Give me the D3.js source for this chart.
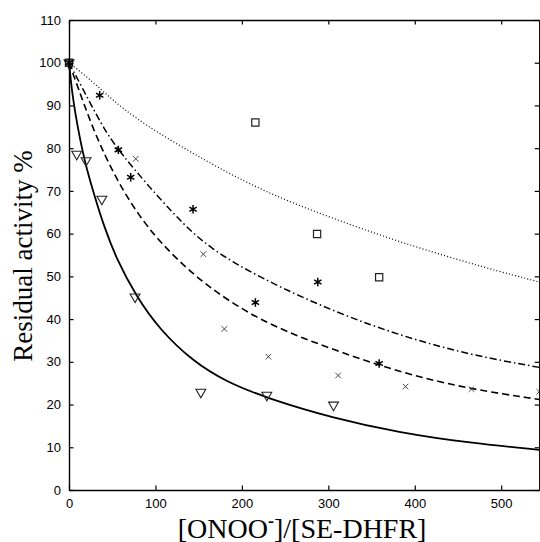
<!DOCTYPE html>
<html>
<head>
<meta charset="utf-8">
<script src="https://cdn.jsdelivr.net/npm/d3@7"></script>
<style>
  body { margin:0; background:#fff; }
  svg { display:block; }
</style>
</head>
<body>
<svg></svg>
<script>

var triX = [0, 8.9, 19.7, 38, 76.4, 152.5, 228.8, 306];
var triY = [100, 78.6, 77.1, 68.1, 45.2, 22.9, 22.2, 19.9];

var astX = [0, 35.5, 57.1, 71.4, 143.5, 215.6, 287.8, 358.8];
var astY = [100, 92.4, 79.6, 73.2, 65.7, 43.9, 48.7, 29.6];

var crossX = [0, 77.2, 155.4, 179.7, 230.7, 311.3, 389.3, 465.6, 544];
var crossY = [100, 77.5, 55.2, 37.7, 31.2, 26.8, 24.2, 23.6, 23];

var sqX = [0, 215.6, 287, 358.8];
var sqY = [100, 86, 59.9, 49.8];

// fitted curves
var solidX = [0, 2, 5, 10, 15, 20, 30, 40, 55, 77.5, 105, 144, 182, 229, 306, 383, 464, 544];
var solidY = [100, 96, 91, 85, 80, 75.5, 68.5, 62, 54, 45.4, 37.5, 30, 25.3, 21.5, 16.8, 13.4, 11, 9.4];

var dashX = [0, 10.8, 25, 42, 60, 80, 105, 144, 182.5, 232.6, 309.8, 386.9, 464, 544];
var dashY = [100, 94, 86, 78, 71, 64.5, 58, 50.3, 44.5, 38.5, 32.5, 27.3, 23.6, 21.2];

var dashDotX = [0, 17, 35, 55, 125, 163, 221, 310, 387, 464, 544];
var dashDotY = [100, 93.5, 86.5, 79.7, 63.5, 56.5, 49.6, 41.4, 35.9, 31.6, 28.7];

var dotX = [0, 30, 70.6, 163, 232, 310, 387, 483, 544];
var dotY = [100, 95.2, 87.4, 76.4, 69.2, 63.2, 57.7, 51.9, 48.7];

var xTicks = [0, 100, 200, 300, 400, 500];
var yTicks = [0, 10, 20, 30, 40, 50, 60, 70, 80, 90, 100, 110];

var screen = { width:540, height:542 };
var margins = { top:20, bottom:52, left:69, right:0.75 };
var width = screen.width - margins.left - margins.right;
var height = screen.height - margins.top - margins.bottom;

var svg = d3.select("svg")
  .attr("width", screen.width)
  .attr("height", screen.height);

var xScale = d3.scaleLinear().domain([0, 544]).range([0, width]);
var yScale = d3.scaleLinear().domain([0, 110]).range([height, 0]);

var plot = svg.append("g")
  .attr("transform", "translate(" + margins.left + "," + margins.top + ")");

var zip = function(xs, ys) { return xs.map(function(x, i) { return [x, ys[i]]; }); };

var line = d3.line()
  .x(function(d) { return xScale(d[0]); })
  .y(function(d) { return yScale(d[1]); })
  .curve(d3.curveBasis);

var curves = [
  { pts: zip(dotX, dotY), dash: "1,2.2", w: 1.2 },
  { pts: zip(dashDotX, dashDotY), dash: "7,3,1.5,3", w: 1.5 },
  { pts: zip(dashX, dashY), dash: "7,4", w: 1.6 },
  { pts: zip(solidX, solidY), dash: null, w: 1.8 }
];

plot.selectAll("path.curve")
  .data(curves)
  .enter()
  .append("path")
  .classed("curve", true)
  .attr("d", function(d) { return line(d.pts); })
  .attr("fill", "none")
  .attr("stroke", "#000")
  .attr("stroke-width", function(d) { return d.w; })
  .attr("stroke-dasharray", function(d) { return d.dash; });

// markers
var markers = function(xs, ys, sym, size, opts)
{
  plot.append("g").selectAll("path")
    .data(zip(xs, ys))
    .enter()
    .append("path")
    .attr("d", d3.symbol(sym, size))
    .attr("transform", function(d)
    {
      return "translate(" + xScale(d[0]) + "," + yScale(d[1]) + ")" + (opts.rot ? " rotate(180)" : "");
    })
    .attr("fill", "none")
    .attr("stroke", opts.color)
    .attr("stroke-width", opts.w);
};

markers(triX, triY, d3.symbolTriangle, 42, { rot:true, color:"#222", w:1.1 });
markers(sqX, sqY, d3.symbolSquare, 52, { color:"#222", w:1.2 });
markers(crossX, crossY, d3.symbolTimes, 22, { color:"#333", w:0.9 });
markers(astX, astY, d3.symbolAsterisk, 50, { color:"#000", w:1.5 });

// axes frame + ticks
var axisStyle = function(g)
{
  g.selectAll("path.domain").attr("stroke", "#000").attr("stroke-width", 1.4);
  g.selectAll(".tick line").attr("stroke", "#000").attr("stroke-width", 1.2);
  g.selectAll("text").attr("font-family", "Arial, 'Liberation Sans', sans-serif")
    .attr("font-size", 13).attr("fill", "#000");
};

plot.append("g")
  .attr("transform", "translate(0," + height + ")")
  .call(d3.axisBottom(xScale).tickValues(xTicks).tickSizeInner(-4.5).tickSizeOuter(0).tickPadding(9))
  .call(axisStyle);

plot.append("g")
  .call(d3.axisTop(xScale).tickValues(xTicks).tickSizeInner(-4.5).tickSizeOuter(0).tickFormat(""))
  .call(axisStyle);

plot.append("g")
  .call(d3.axisLeft(yScale).tickValues(yTicks).tickSizeInner(-4.5).tickSizeOuter(0).tickPadding(8))
  .call(axisStyle);

plot.append("g")
  .attr("transform", "translate(" + width + ",0)")
  .call(d3.axisRight(yScale).tickValues(yTicks).tickSizeInner(-4.5).tickSizeOuter(0).tickFormat(""))
  .call(axisStyle);

// labels
var xLabel = svg.append("text")
  .attr("x", margins.left + width / 2 - 2)
  .attr("y", 537.5)
  .attr("text-anchor", "middle")
  .attr("font-family", "'Liberation Serif', 'Times New Roman', serif")
  .attr("font-size", 28)
  .attr("fill", "#000");
xLabel.append("tspan").text("[ONOO");
xLabel.append("tspan").text("-").attr("font-size", 18).attr("dy", -11).attr("font-weight", "bold");
xLabel.append("tspan").text("]/[SE-DHFR]").attr("dy", 11);

svg.append("text")
  .attr("transform", "translate(31.5,256) rotate(-90)")
  .attr("text-anchor", "middle")
  .attr("font-family", "'Liberation Serif', 'Times New Roman', serif")
  .attr("font-size", 27)
  .attr("fill", "#000")
  .text("Residual activity %");

</script>
</body>
</html>
